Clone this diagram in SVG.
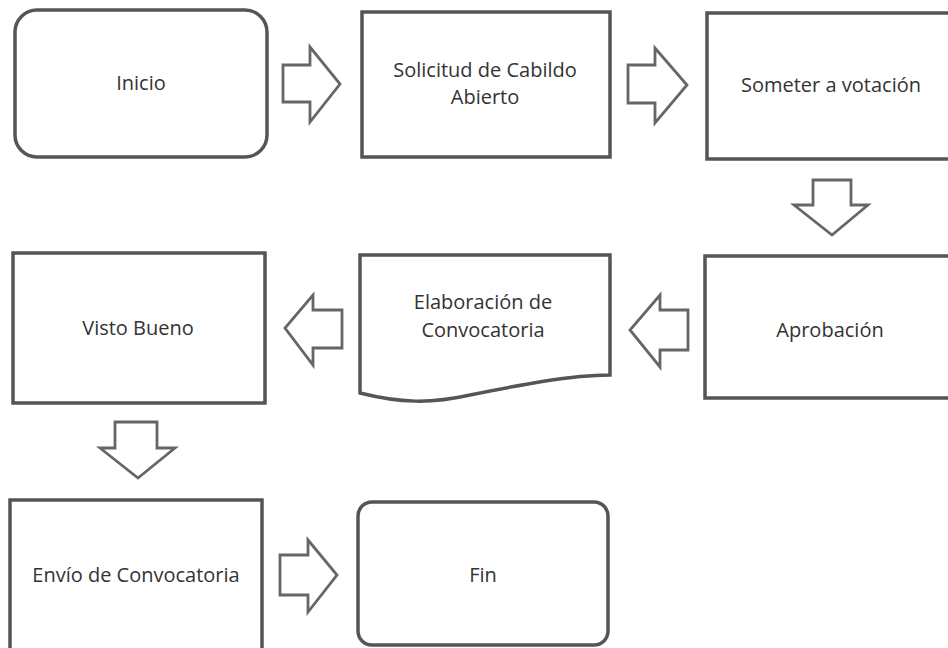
<svg xmlns="http://www.w3.org/2000/svg" width="948" height="648" viewBox="0 0 948 648">
<style>
.box{fill:#fff;stroke:#555;stroke-width:3.5}
.arr{fill:#fff;stroke:#666;stroke-width:2.8;stroke-linejoin:miter}
.t{font-family:"Open Sans","Noto Sans","Liberation Sans",sans-serif;font-size:20px;fill:#333;text-anchor:middle}
</style>
<rect width="948" height="648" fill="#fff"/>
<g id="inicio"><rect class="box" x="15" y="10" width="252" height="147" rx="22"/><text class="t" x="141" y="90">Inicio</text></g>
<g id="solicitud"><rect class="box" x="362" y="12" width="248" height="145"/><text class="t" x="485" y="77">Solicitud de Cabildo</text><text class="t" x="485" y="104">Abierto</text></g>
<g id="someter"><rect class="box" x="707" y="13" width="248" height="146"/><text class="t" x="831" y="92">Someter a votación</text></g>
<g id="aprobacion"><rect class="box" x="705" y="256" width="248" height="142"/><text class="t" x="830" y="337">Aprobación</text></g>
<g id="elaboracion"><path class="box" d="M360,255 H610 V375 C570,375 520,385 470,395 C430,404 400,403 360,393 Z"/><text class="t" x="483" y="309">Elaboración de</text><text class="t" x="483" y="337">Convocatoria</text></g>
<g id="visto"><rect class="box" x="13" y="253" width="252" height="150"/><text class="t" x="138" y="335">Visto Bueno</text></g>
<g id="envio"><rect class="box" x="10" y="500" width="252" height="150"/><text class="t" x="136" y="582">Envío de Convocatoria</text></g>
<g id="fin"><rect class="box" x="358" y="502" width="250" height="143" rx="14"/><text class="t" x="483" y="582">Fin</text></g>
<g id="connectors">
<polygon class="arr" points="283,65 310,65 310,47 340,84 310,122 310,102 283,102"/>
<polygon class="arr" points="628,65 655,65 655,48 687,85 655,123 655,103 628,103"/>
<polygon class="arr" points="813,180 851,180 851,205 868,205 832,235 794,205 813,205"/>
<polygon class="arr" points="688,310 660,310 660,295 630,330 660,367 660,350 688,350"/>
<polygon class="arr" points="342,310 313,310 313,295 285,328 313,365 313,348 342,348"/>
<polygon class="arr" points="115,422 157,422 157,448 175,448 138,478 100,448 115,448"/>
<polygon class="arr" points="280,555 308,555 308,540 337,575 308,612 308,595 280,595"/>
</g>
</svg>
